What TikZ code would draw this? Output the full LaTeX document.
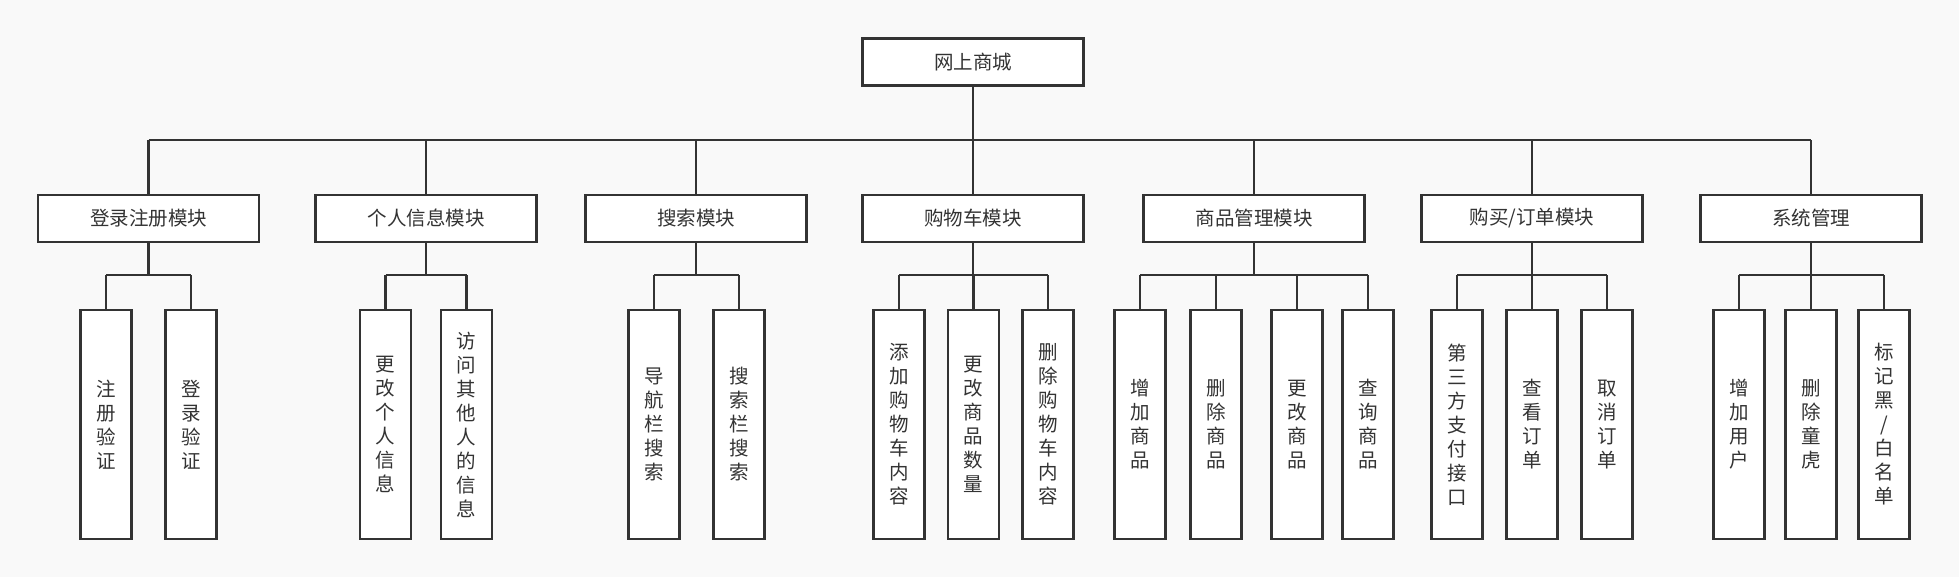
\documentclass[tikz,border=0pt]{standalone}
\usepackage{fontspec}
\newfontfamily\cjk{Noto Sans CJK SC}
\definecolor{bg}{HTML}{F9F9F9}
\definecolor{ln}{HTML}{333333}
\begin{document}
\begin{tikzpicture}[x=1pt,y=-1pt,
 box/.style={draw=ln,fill=white,line width=2.6pt,inner sep=0pt,minimum width=221pt,minimum height=47pt,font=\cjk\fontsize{19.5}{24}\selectfont,text=ln},
 leaf/.style={box,minimum width=51pt,minimum height=229pt,align=center},
 conn/.style={draw=ln,line width=2.5pt}]
\fill[bg] (0,0) rectangle (1959,577);
\useasboundingbox (0,0) rectangle (1959,577);
% root
\node[box] (root) at (973,62) {网上商城};
% modules
\node[box] (m1) at (148.5,218.5) {登录注册模块};
\node[box] (m2) at (426,218.5) {个人信息模块};
\node[box] (m3) at (696,218.5) {搜索模块};
\node[box] (m4) at (973,218.5) {购物车模块};
\node[box] (m5) at (1254,218.5) {商品管理模块};
\node[box] (m6) at (1532,218.5) {购买/订单模块};
\node[box] (m7) at (1811,218.5) {系统管理};
% leaves
\node[leaf] (l11) at (106,424.5) {注\\册\\验\\证};
\node[leaf] (l12) at (191,424.5) {登\\录\\验\\证};
\node[leaf] (l21) at (385.5,424.5) {更\\改\\个\\人\\信\\息};
\node[leaf] (l22) at (466.5,424.5) {访\\问\\其\\他\\人\\的\\信\\息};
\node[leaf] (l31) at (654,424.5) {导\\航\\栏\\搜\\索};
\node[leaf] (l32) at (739,424.5) {搜\\索\\栏\\搜\\索};
\node[leaf] (l41) at (899,424.5) {添\\加\\购\\物\\车\\内\\容};
\node[leaf] (l42) at (973.5,424.5) {更\\改\\商\\品\\数\\量};
\node[leaf] (l43) at (1048,424.5) {删\\除\\购\\物\\车\\内\\容};
\node[leaf] (l51) at (1140,424.5) {增\\加\\商\\品};
\node[leaf] (l52) at (1216,424.5) {删\\除\\商\\品};
\node[leaf] (l53) at (1297,424.5) {更\\改\\商\\品};
\node[leaf] (l54) at (1368,424.5) {查\\询\\商\\品};
\node[leaf] (l61) at (1457,424.5) {第\\三\\方\\支\\付\\接\\口};
\node[leaf] (l62) at (1532,424.5) {查\\看\\订\\单};
\node[leaf] (l63) at (1607,424.5) {取\\消\\订\\单};
\node[leaf] (l71) at (1739,424.5) {增\\加\\用\\户};
\node[leaf] (l72) at (1811,424.5) {删\\除\\童\\虎};
\node[leaf] (l73) at (1884,424.5) {标\\记\\黑\\/\\白\\名\\单};
% buses
\coordinate (bus) at (973,140);
\coordinate (sbus) at (0,275);
\draw[conn] (root.south) -- (root.south |- bus);
\draw[conn] (m1.north |- bus) -- (m7.north |- bus);
\foreach \m in {m1,m2,m3,m4,m5,m6,m7}{
  \draw[conn] (\m.north) -- (\m.north |- bus);
  \draw[conn] (\m.south) -- (\m.south |- sbus);
}
\draw[conn] (l11.north |- sbus) -- (l12.north |- sbus);
\draw[conn] (l21.north |- sbus) -- (l22.north |- sbus);
\draw[conn] (l31.north |- sbus) -- (l32.north |- sbus);
\draw[conn] (l41.north |- sbus) -- (l43.north |- sbus);
\draw[conn] (l51.north |- sbus) -- (l54.north |- sbus);
\draw[conn] (l61.north |- sbus) -- (l63.north |- sbus);
\draw[conn] (l71.north |- sbus) -- (l73.north |- sbus);
\foreach \l in {l11,l12,l21,l22,l31,l32,l41,l42,l43,l51,l52,l53,l54,l61,l62,l63,l71,l72,l73}{
  \draw[conn] (\l.north) -- (\l.north |- sbus);
}
\end{tikzpicture}
\end{document}
